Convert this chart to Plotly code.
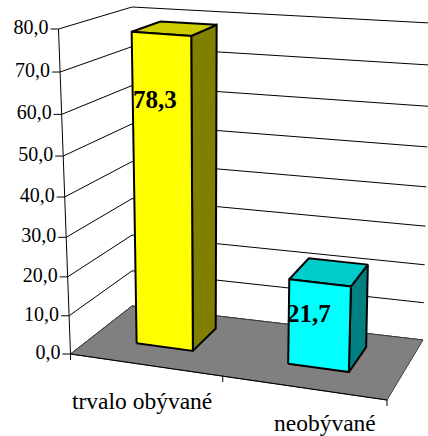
import plotly.graph_objects as go

# ---- data ----
categories = ["trvalo obývané", "neobývané"]
values = [78.3, 21.7]
value_labels = ["78,3", "21,7"]
y_ticks = [0, 10, 20, 30, 40, 50, 60, 70, 80]
y_tick_labels = ["0,0", "10,0", "20,0", "30,0", "40,0", "50,0", "60,0", "70,0", "80,0"]
y_max = 80.0

# ---- style / projection constants ----
front_colors = ["#FFFF00", "#00FFFF"]
top_colors = ["#CCCC00", "#00CCCC"]
side_colors = ["#808000", "#008080"]
FONT = "Liberation Serif, Times New Roman, Times, serif"

# corners of the 3D box in the plotting frame (front/back, left/right, bottom/top)
F0b, F1b, B0b, B1b = (70.5, 354.0), (387.0, 400.0), (132.0, 306.0), (423.0, 340.0)
F0t, F1t, B0t, B1t = (58.5, 29.0), (400.0, 55.0), (132.0, 7.0), (430.0, 23.0)
bar_half = 0.095
bar_front, bar_back = 0.35, 0.78
label_dx = [-1, -4]
label_dy = [68, 34]
cat_dx = [-3, 22]
cat_dy = [36, 35]


def bil(a, b, c, d, u, w):
    return tuple((1 - u) * (1 - w) * a[i] + u * (1 - w) * b[i] + (1 - u) * w * c[i] + u * w * d[i]
                 for i in range(2))


def proj(u, v, w):
    uu = u - 0.076 * u * (1 - u)
    f = v / y_max
    vv = f - 0.068 * f * (1 - f)
    bo = bil(F0b, F1b, B0b, B1b, uu, w)
    to = bil(F0t, F1t, B0t, B1t, uu, w)
    return (bo[0] + vv * (to[0] - bo[0]), bo[1] + vv * (to[1] - bo[1]))


def poly(pts, fill, lw=1.5, lc="black"):
    xs = [p[0] for p in pts] + [pts[0][0]]
    ys = [p[1] for p in pts] + [pts[0][1]]
    return go.Scatter(x=xs, y=ys, mode="lines", fill="toself", fillcolor=fill,
                      line=dict(color=lc, width=lw), hoverinfo="skip")


fig = go.Figure()

# gridlines: left wall + back wall
gx, gy = [], []
for t in y_ticks:
    for p in (proj(0, t, 0), proj(0, t, 1), proj(1, t, 1)):
        gx.append(p[0]); gy.append(p[1])
    gx.append(None); gy.append(None)
fig.add_trace(go.Scatter(x=gx, y=gy, mode="lines", line=dict(color="black", width=1), hoverinfo="skip"))

# floor
fig.add_trace(poly([proj(0, 0, 0), proj(1, 0, 0), proj(1, 0, 1), proj(0, 0, 1)], "#808080", lw=1, lc="#404040"))

# axes lines
ax_pts = [proj(0, y_max, 0), proj(0, 0, 0), proj(1, 0, 0)]
fig.add_trace(go.Scatter(x=[p[0] for p in ax_pts], y=[p[1] for p in ax_pts], mode="lines",
                         line=dict(color="black", width=1), hoverinfo="skip"))

# ticks
tx, ty = [], []
for t in y_ticks:
    p = proj(0, t, 0)
    tx += [p[0] - 8, p[0], None]; ty += [p[1], p[1], None]
n = len(categories)
for i in range(n + 1):
    p = proj(i / n, 0, 0)
    tx += [p[0], p[0], None]; ty += [p[1], p[1] + 6, None]
fig.add_trace(go.Scatter(x=tx, y=ty, mode="lines", line=dict(color="black", width=1), hoverinfo="skip"))

# y tick labels
lx = [proj(0, t, 0)[0] - 10 for t in y_ticks]
ly = [proj(0, t, 0)[1] for t in y_ticks]
fig.add_trace(go.Scatter(x=lx, y=ly, mode="text", text=y_tick_labels, textposition="middle left",
                         textfont=dict(family=FONT, size=20, color="black"), hoverinfo="skip"))

# bars
for i, val in enumerate(values):
    uc = (i + 0.5) / n
    uL, uR = uc - bar_half, uc + bar_half
    front = [proj(uL, 0, bar_front), proj(uR, 0, bar_front), proj(uR, val, bar_front), proj(uL, val, bar_front)]
    top = [proj(uL, val, bar_front), proj(uR, val, bar_front), proj(uR, val, bar_back), proj(uL, val, bar_back)]
    side = [proj(uR, 0, bar_front), proj(uR, 0, bar_back), proj(uR, val, bar_back), proj(uR, val, bar_front)]
    fig.add_trace(poly(side, side_colors[i], lw=2))
    fig.add_trace(poly(top, top_colors[i], lw=2))
    fig.add_trace(poly(front, front_colors[i], lw=2))
    a = proj(uL, val, bar_front)
    fig.add_annotation(x=a[0] + label_dx[i], y=a[1] + label_dy[i], text="<b>%s</b>" % value_labels[i],
                       xref="x", yref="y", xanchor="left", yanchor="middle", showarrow=False,
                       font=dict(family=FONT, size=25, color="black"))

# category labels
for i, c in enumerate(categories):
    p = proj((i + 0.5) / n, 0, 0)
    fig.add_annotation(x=p[0] + cat_dx[i], y=p[1] + cat_dy[i], text=c, xref="x", yref="y",
                       xanchor="center", yanchor="middle", showarrow=False,
                       font=dict(family=FONT, size=23.5, color="black"))

fig.update_layout(width=428, height=436, margin=dict(l=0, r=0, t=0, b=0),
                  paper_bgcolor="white", plot_bgcolor="white", showlegend=False,
                  font=dict(family=FONT),
                  xaxis=dict(range=[0, 428], visible=False, fixedrange=True),
                  yaxis=dict(range=[436, 0], visible=False, fixedrange=True))

fig.write_html("out.html", config={"displayModeBar": False},
               post_script="document.body.style.margin='0';document.body.style.overflow='hidden';")
